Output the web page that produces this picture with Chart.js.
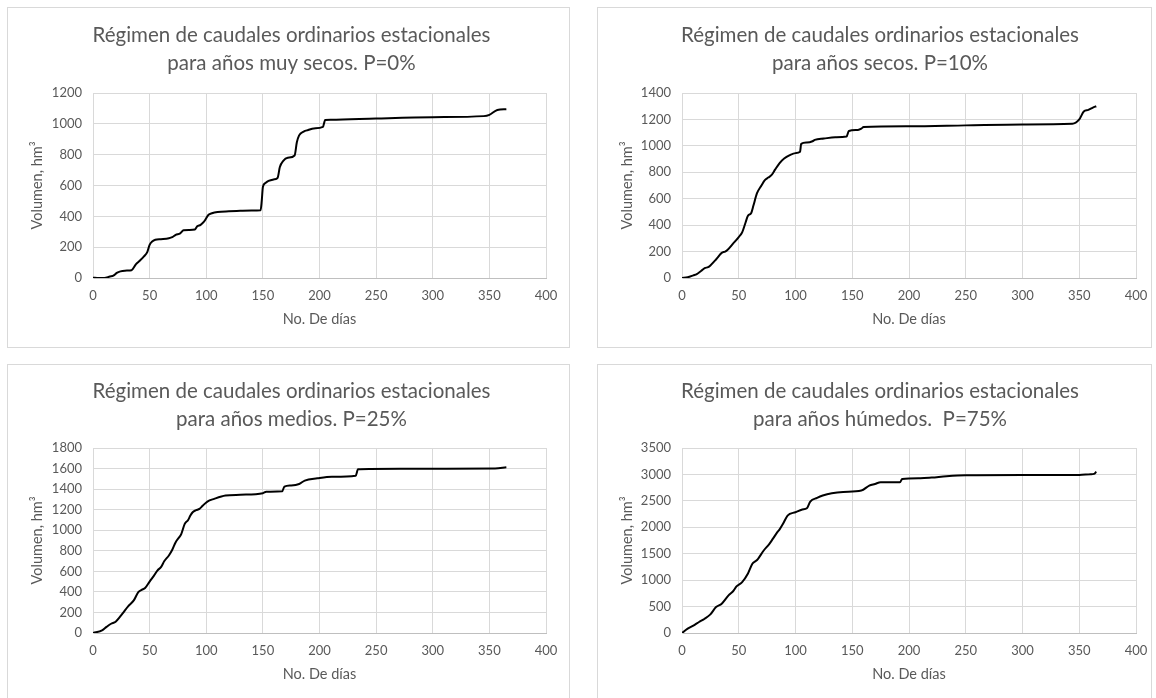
<!DOCTYPE html>
<html>
<head>
<meta charset="utf-8">
<script src="https://cdn.jsdelivr.net/npm/chart.js@4/dist/chart.umd.min.js"></script>
<style>
  body { margin: 0; background: #fff; width: 1156px; height: 698px; overflow: hidden; position: relative; }
  .box { position: absolute; border: 1px solid #d9d9d9; box-sizing: border-box; background: #fff; }
  .box canvas { display: block; }
</style>
</head>
<body>
<div class="box" style="left:7px; top:7px; width:563px; height:341px;"><canvas id="c1" width="561" height="339"></canvas></div>
<div class="box" style="left:597px; top:7px; width:555px; height:341px;"><canvas id="c2" width="553" height="339"></canvas></div>
<div class="box" style="left:7px; top:364px; width:563px; height:341px;"><canvas id="c3" width="561" height="339"></canvas></div>
<div class="box" style="left:597px; top:364px; width:555px; height:341px;"><canvas id="c4" width="553" height="339"></canvas></div>

<script>
// ---- data ----
const days0 = [0,5,10,15,18,21,23,26,30,34,38,41,45,48,50,52,55,60,67,70,73,77,80,85,90,92,95,98,102,105,110,120,130,140,148,149,150,152,155,160,163,165,168,172,178,180,182,186,190,195,203,205,210,250,300,345,350,357,365];
const vol0  = [2,0,0,10,15,33,40,45,48,50,90,110,140,170,215,235,248,252,258,265,280,290,310,312,315,335,345,365,410,420,428,433,436,438,440,500,590,615,630,640,650,720,760,780,795,880,925,950,960,970,980,1025,1027,1035,1043,1050,1058,1090,1095];

const days10 = [0,5,10,13,17,20,23,25,30,35,38,40,45,50,53,56,58,61,63,66,70,73,76,79,82,86,90,95,100,104,105,110,115,117,125,135,145,147,155,158,160,200,250,300,344,350,354,358,362,365];
const vol10  = [0,5,20,30,55,75,82,95,140,190,200,212,260,310,345,420,470,492,550,640,700,740,760,780,820,870,905,930,945,955,1015,1025,1035,1045,1055,1065,1070,1112,1120,1130,1143,1148,1155,1162,1167,1200,1260,1272,1290,1300];

const days25 = [0,8,12,16,20,26,31,36,40,43,46,50,54,57,60,63,67,70,73,76,78,81,84,86,88,91,94,97,101,107,117,130,150,153,167,169,175,182,187,198,211,232,234,244,300,355,365];
const vol25  = [0,26,60,90,110,188,260,317,398,420,437,500,560,610,641,700,754,810,884,930,965,1062,1100,1143,1175,1195,1208,1240,1279,1305,1337,1345,1360,1375,1378,1424,1435,1450,1483,1505,1521,1531,1593,1596,1598,1600,1612];

const days75 = [0,5,10,15,20,25,30,35,41,45,48,53,58,62,65,67,72,77,80,84,86,89,93,100,106,110,113,119,124,132,142,158,165,170,175,192,194,210,220,233,250,300,350,360,363,365];
const vol75  = [0,82,140,208,270,352,491,554,711,790,881,963,1120,1309,1360,1404,1561,1687,1780,1907,1960,2065,2222,2285,2335,2360,2486,2556,2600,2644,2669,2694,2789,2820,2852,2852,2914,2927,2940,2965,2984,2990,2990,3005,3010,3053];

const titles = [
    ['Régimen de caudales ordinarios estacionales', 'para años muy secos. P=0%'],
    ['Régimen de caudales ordinarios estacionales', 'para años secos. P=10%'],
    ['Régimen de caudales ordinarios estacionales', 'para años medios. P=25%'],
    ['Régimen de caudales ordinarios estacionales', 'para años húmedos.  P=75%']
];
const yMaxes = [1200, 1400, 1800, 3500];
const ySteps = [200, 200, 200, 500];
const xTitle = 'No. De días';
const yTitle = 'Volumen, hm³';

// ---- drawing ----
const FONT = 'Lato, "Noto Sans", sans-serif';
const TEXT = '#595959';

function toPoints(days, vols) {
    return days.map((d, i) => ({ x: d, y: vols[i] }));
}

// plot = [left, top, right, bottom] inside the canvas; shift nudges the title to the right
function makeChart(id, title, days, vols, yMax, yStep, plot, titleTop, shift) {
    const canvas = document.getElementById(id);
    const W = canvas.width, H = canvas.height;
    const yLeft = 21 + shift, xHeight = 50, lineH = 28;

    new Chart(canvas.getContext('2d'), {
        type: 'line',
        data: {
            datasets: [{
                data: toPoints(days, vols),
                borderColor: '#000',
                borderWidth: 2,
                pointRadius: 0,
                fill: false,
                cubicInterpolationMode: 'monotone'
            }]
        },
        options: {
            responsive: false,
            animation: false,
            events: [],
            layout: {
                padding: { left: yLeft, right: W - plot[2], top: 0, bottom: H - plot[3] - xHeight }
            },
            plugins: {
                legend: { display: false },
                tooltip: { enabled: false },
                title: {
                    display: true,
                    text: title,
                    color: TEXT,
                    font: { family: FONT, size: 20.5, weight: 'normal', lineHeight: lineH / 20.5 },
                    padding: { top: titleTop, bottom: plot[1] - titleTop - 2 * lineH }
                }
            },
            scales: {
                x: {
                    type: 'linear',
                    min: 0, max: 400,
                    ticks: { stepSize: 50, color: TEXT, padding: 10, font: { family: FONT, size: 13 },
                             callback: v => String(v) },
                    grid: { color: '#d9d9d9', drawTicks: false },
                    border: { color: '#bfbfbf' },
                    title: { display: true, text: xTitle, color: TEXT, padding: 0, font: { family: FONT, size: 14.5 } },
                    afterFit: s => { s.height = xHeight; s.paddingLeft = 0; s.paddingRight = 0; }
                },
                y: {
                    min: 0, max: yMax,
                    ticks: { stepSize: yStep, color: TEXT, padding: 11, font: { family: FONT, size: 13 },
                             callback: v => String(v) },
                    grid: { color: '#d9d9d9', drawTicks: false },
                    border: { color: '#d9d9d9' },
                    title: { display: true, text: yTitle, color: TEXT, padding: { top: -shift, bottom: 0 },
                             font: { family: FONT, size: 14.5 } },
                    afterFit: s => { s.width = plot[0] - yLeft; s.paddingTop = 0; s.paddingBottom = 0; }
                }
            }
        }
    });
}

makeChart('c1', titles[0], days0, vol0, yMaxes[0], ySteps[0], [85, 85, 538, 270], 13, 8);
makeChart('c2', titles[1], days10, vol10, yMaxes[1], ySteps[1], [84, 85, 538, 270], 13, 5);
makeChart('c3', titles[2], days25, vol25, yMaxes[2], ySteps[2], [85, 83, 538, 268], 12, 8);
makeChart('c4', titles[3], days75, vol75, yMaxes[3], ySteps[3], [84, 83, 538, 268], 12, 5);
</script>
</body>
</html>
